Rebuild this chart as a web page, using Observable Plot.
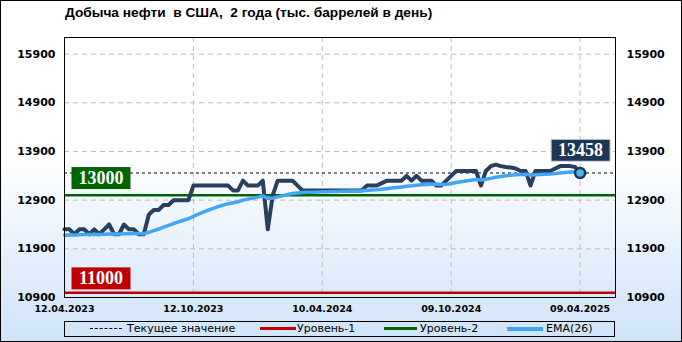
<!DOCTYPE html>
<html><head><meta charset="utf-8">
<script src="https://cdn.jsdelivr.net/npm/d3@7"></script>
<script src="https://cdn.jsdelivr.net/npm/@observablehq/plot@0.6"></script>
<style>
body{margin:0;}
#wrap{position:relative;width:680px;height:340px;border:1px solid #000;background:linear-gradient(to bottom,#ffffff 0%,#ffffff 45%,#cfe3f8 100%);overflow:hidden;}
#title{position:absolute;left:64px;top:4px;font:bold 13.7px "Liberation Sans",sans-serif;white-space:pre;color:#000;}
#chart{position:absolute;left:0;top:0;}
#legend{position:absolute;left:63px;top:320px;width:549px;height:14px;border:1px solid #000;font:11px "DejaVu Sans",sans-serif;color:#000;}
#legend .ln{position:absolute;top:6px;height:0;}
#legend .tx{position:absolute;top:0px;line-height:14px;white-space:nowrap;}
</style></head>
<body>
<div id="wrap">
  <div id="title">Добыча нефти  в США,  2 года (тыс. баррелей в день)</div>
  <div id="chart"></div>
  <div id="legend">
    <div class="ln" style="left:25px;width:32px;border-top:1px dashed #000;"></div>
    <div class="tx" style="left:62px;">Текущее значение</div>
    <div class="ln" style="left:195px;width:36px;border-top:3px solid #c00000;top:5px;"></div>
    <div class="tx" style="left:232px;">Уровень-1</div>
    <div class="ln" style="left:319px;width:33px;border-top:3px solid #006400;top:5px;"></div>
    <div class="tx" style="left:355px;">Уровень-2</div>
    <div class="ln" style="left:442px;width:36px;border-top:4px solid #42a5f5;top:5px;"></div>
    <div class="tx" style="left:481px;">EMA(26)</div>
  </div>
</div>
<script>
// Weekly US crude oil production, thousand barrels per day (from 12.04.2023 to 09.04.2025)
const startDate = Date.UTC(2023, 3, 12);
const production = [
  12300, 12300, 12200, 12300, 12300, 12200, 12300, 12200, 12300, 12400,
  12200, 12200, 12400, 12300, 12300, 12200, 12200, 12600, 12700, 12700,
  12800, 12800, 12900, 12900, 12900, 12900, 13200, 13200, 13200, 13200,
  13200, 13200, 13200, 13200, 13100, 13100, 13300, 13200, 13200, 13200,
  13300, 12300, 13000, 13300, 13300, 13300, 13300, 13200, 13100, 13100,
  13100, 13100, 13100, 13100, 13100, 13100, 13100, 13100, 13100, 13100,
  13100, 13200, 13200, 13200, 13250, 13300, 13300, 13300, 13300, 13400,
  13300, 13400, 13300, 13300, 13300, 13200, 13200, 13300, 13400, 13500,
  13500, 13500, 13500, 13500, 13200, 13500, 13600, 13630, 13600, 13580,
  13570, 13550, 13500, 13500, 13200, 13500, 13500, 13500, 13500, 13550,
  13600, 13600, 13600, 13580, 13458
];
const ema26 = [
  12180, 12185, 12185, 12190, 12192, 12193, 12196, 12196, 12198, 12203,
  12203, 12203, 12210, 12212, 12214, 12213, 12212, 12240, 12275, 12307,
  12345, 12380, 12420, 12455, 12488, 12518, 12567, 12612, 12655, 12695,
  12732, 12766, 12798, 12828, 12848, 12867, 12900, 12922, 12943, 12962,
  12987, 12936, 12940, 12967, 12992, 13015, 13036, 13048, 13055, 13060,
  13064, 13068, 13071, 13074, 13077, 13080, 13082, 13085, 13087, 13089,
  13091, 13099, 13107, 13114, 13124, 13136, 13148, 13159, 13170, 13186,
  13194, 13208, 13215, 13221, 13227, 13225, 13223, 13229, 13242, 13261,
  13279, 13295, 13310, 13323, 13314, 13328, 13348, 13369, 13386, 13400,
  13412, 13422, 13428, 13433, 13416, 13422, 13428, 13433, 13438, 13446,
  13458, 13469, 13478, 13486, 13483
];
const currentValue = 13458;
const level1 = 11000;
const level2 = 13000;
const yTicks = [10900, 11900, 12900, 13900, 14900, 15900];
const xTickIndex = [0, 26, 52, 78, 104];
const xTickLabels = ["12.04.2023", "12.10.2023", "10.04.2024", "09.10.2024", "09.04.2025"];

const DAY = 864e5;
const dates = production.map((_, i) => new Date(startDate + i * 7 * DAY));
const rows = production.map((v, i) => ({date: dates[i], value: v, ema: ema26[i]}));
const xTicks = xTickIndex.map(i => dates[i]);
const labelOf = new Map(xTicks.map((d, k) => [+d, xTickLabels[k]]));
const last = rows[rows.length - 1];
const xEnd = new Date(startDate + 778 * DAY);

const serif = "'Liberation Serif', serif";
const chart = Plot.plot({
  width: 680, height: 322,
  marginTop: 36, marginBottom: 26, marginLeft: 63, marginRight: 66,
  style: {background: "transparent", fontFamily: "'DejaVu Sans', sans-serif", color: "#000", overflow: "visible"},
  x: {type: "utc", domain: [dates[0], xEnd]},
  y: {domain: [10900, 16242]},
  marks: [
    Plot.gridY(yTicks, {stroke: "#bdbdbd", strokeOpacity: 1, strokeDasharray: "5,4"}),
    Plot.gridX(xTicks, {stroke: "#bdbdbd", strokeOpacity: 1, strokeDasharray: "5,4"}),
    Plot.ruleY([level1], {stroke: "#c00000", strokeWidth: 2.5}),
    Plot.ruleY([level2], {stroke: "#006400", strokeWidth: 2.5}),
    Plot.ruleY([currentValue], {stroke: "#000", strokeWidth: 1, strokeDasharray: "3,3"}),
    Plot.line(rows, {x: "date", y: "value", stroke: "#283f5e", strokeWidth: 4}),
    Plot.line(rows, {x: "date", y: "ema", stroke: "#42a5f5", strokeWidth: 3.5}),
    Plot.dot([last], {x: "date", y: "value", r: 5, fill: "#4fb3e6", stroke: "#1c3658", strokeWidth: 2.5}),
    Plot.axisY(yTicks, {anchor: "left", tickSize: 0, tickPadding: 9, fontSize: 11, fontWeight: "bold", tickFormat: d => String(d)}),
    Plot.axisY(yTicks, {anchor: "right", tickSize: 0, tickPadding: 11, fontSize: 11, fontWeight: "bold", tickFormat: d => String(d)}),
    Plot.axisX(xTicks, {tickSize: 0, tickPadding: 8, fontSize: 9.5, fontWeight: "bold", tickFormat: d => labelOf.get(+d)}),
    Plot.frame({stroke: "#000", strokeWidth: 1}),
    Plot.text([{date: dates[0], v: level2, t: String(level2)}], {x: "date", y: "v", text: "t", dx: 36.5, dy: -17.5, fill: "#fff", fontSize: 18, fontWeight: "bold", fontFamily: serif}),
    Plot.text([{date: dates[0], v: level1, t: String(level1)}], {x: "date", y: "v", text: "t", dx: 36.5, dy: -14.5, fill: "#fff", fontSize: 18, fontWeight: "bold", fontFamily: serif}),
    Plot.text([last], {x: "date", y: "value", text: d => String(d.value), dx: 0.5, dy: -23, fill: "#fff", fontSize: 18, fontWeight: "bold", fontFamily: serif})
  ]
});
document.getElementById("chart").appendChild(chart);

// boxes behind the value labels
const boxColor = {"13000": ["#006400", "none"], "11000": ["#c00000", "none"], "13458": ["#1c3658", "#d8d8d8"]};
chart.querySelectorAll("text").forEach(t => {
  const c = boxColor[t.textContent.trim()];
  if (!c) return;
  const b = t.getBBox();
  const r = document.createElementNS("http://www.w3.org/2000/svg", "rect");
  const w = 59, h = 22;
  const cx = b.x + b.width / 2, cy = b.y + b.height / 2 + 0.5;
  r.setAttribute("x", cx - w / 2);
  r.setAttribute("y", cy - h / 2);
  r.setAttribute("width", w);
  r.setAttribute("height", h);
  r.setAttribute("fill", c[0]);
  r.setAttribute("stroke", c[1]);
  const tr = t.getAttribute("transform");
  if (tr) r.setAttribute("transform", tr);
  t.parentNode.insertBefore(r, t);
});
</script>
</body></html>
